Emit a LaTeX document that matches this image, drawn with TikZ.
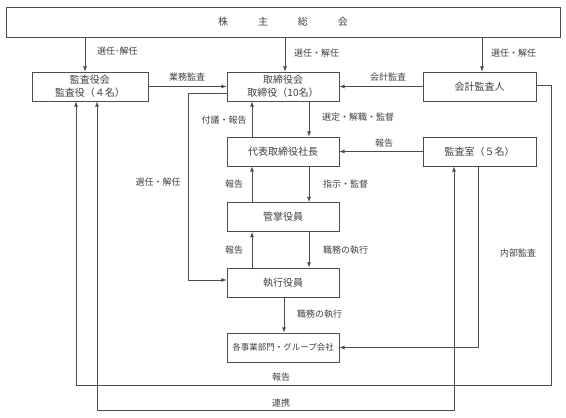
\documentclass[tikz,border=0pt]{standalone}
\usepackage{fontspec}
\newfontfamily\jpfont{Noto Sans CJK JP}
\begin{document}
\begin{tikzpicture}[x=1pt,y=-1pt,>=latex,font=\jpfont\fontsize{10}{13}\selectfont,
    box/.style={draw=black!70,line width=0.8pt,text=black!75,minimum height=29pt,inner sep=2pt},
    lbl/.style={text=black!75,font=\jpfont\fontsize{9}{11}\selectfont,inner sep=0pt},
    line/.style={draw=black!70,line width=0.8pt}]
                \useasboundingbox (0,0) rectangle (566,418);
                \node[box,minimum width=554pt,minimum height=30pt] (soukai) at (283,22) {株\hspace{30pt}主\hspace{30pt}総\hspace{30pt}会};
                \node[box,minimum width=116pt,align=center] (kansayaku) at (90,86.5) {監査役会\\監査役（４名）};
                \node[box,minimum width=112pt,align=center] (torishimari) at (283,86.5) {取締役会\\取締役（10名）};
                \node[box,minimum width=113pt] (kaikei) at (479.5,86.5) {会計監査人};
                \node[box,minimum width=112pt] (daihyo) at (283,151.5) {代表取締役社長};
                \node[box,minimum width=113pt] (kansashitsu) at (479.5,151.5) {監査室（５名）};
                \node[box,minimum width=112pt] (kansho) at (283,217) {管掌役員};
                \node[box,minimum width=112pt] (shikko) at (283,282.5) {執行役員};
                \node[box,minimum width=112pt,font=\jpfont\fontsize{8.5}{10}\selectfont] (jigyo) at (283,347.5) {各事業部門・グループ会社};
                % 株主総会から
                \draw[line,->] ([xshift=-5pt]kansayaku.north |- soukai.south) -- ([xshift=-5pt]kansayaku.north);
                \draw[line,->] ([xshift=2pt]torishimari.north |- soukai.south) -- ([xshift=2pt]torishimari.north);
                \draw[line,->] ([xshift=2.5pt]kaikei.north |- soukai.south) -- ([xshift=2.5pt]kaikei.north);
                \node[lbl,anchor=west] (sennin1) at (97,51) {選任･解任};
                \node[lbl,anchor=west] (sennin2) at (294,53) {選任・解任};
                \node[lbl,anchor=west] (sennin3) at (491,53) {選任・解任};
                % 監査
                \draw[line,->] (kansayaku.east) -- (torishimari.west);
                \draw[line,->] (kaikei.west) -- (torishimari.east);
                \draw[line,->] (kansashitsu.west) -- (daihyo.east);
                \node[lbl] (gyomu) at (187,77) {業務監査};
                \node[lbl] (kaikeikansa) at (388,77) {会計監査};
                \node[lbl] (houkoku1) at (384,143) {報告};
                % 中央の列
                \foreach \lo/\hi in {daihyo/torishimari,kansho/daihyo,shikko/kansho}{
                    \draw[line,->] ([xshift=-31pt]\lo.north) -- ([xshift=-31pt]\hi.south);
                    \draw[line,->] ([xshift=26pt]\hi.south) -- ([xshift=26pt]\lo.north);
                }
                \draw[line,->] ([xshift=1pt]shikko.south) -- ([xshift=1pt]jigyo.north);
                \node[lbl] (fugi) at (224,120) {付議・報告};
                \node[lbl,anchor=west] (sentei) at (322,117) {選定・解職・監督};
                \node[lbl] (houkoku2) at (234,184) {報告};
                \node[lbl,anchor=west] (shiji) at (323,184) {指示・監督};
                \node[lbl] (houkoku3) at (234,250) {報告};
                \node[lbl,anchor=west] (shokumu1) at (323,250) {職務の執行};
                \node[lbl,anchor=west] (shokumu2) at (297,314) {職務の執行};
                % 外側の線
                \coordinate (senninL) at (188,280);
                \draw[line,->] ([yshift=-6.5pt]torishimari.west) -| (senninL) -- (senninL -| shikko.west);
                \node[lbl] (sennin4) at (158,182) {選任・解任};
                \coordinate (houkokuR) at (551,385);
                \draw[line,->] ([yshift=1.5pt]kaikei.east) -| (houkokuR) -| ([xshift=-14pt]kansayaku.south);
                \node[lbl] (houkoku4) at (281,377) {報告};
                \coordinate (renkeiL) at (97,410.5);
                \draw[line,<->] ([xshift=7pt]kansayaku.south) -- (renkeiL) -| ([xshift=-25.5pt]kansashitsu.south);
                \node[lbl] (renkei) at (281,403) {連携};
                \draw[line,->] ([xshift=-1.5pt]kansashitsu.south) |- (jigyo.east);
                \node[lbl] (naibu) at (518,253) {内部監査};
            \end{tikzpicture}
\end{document}
